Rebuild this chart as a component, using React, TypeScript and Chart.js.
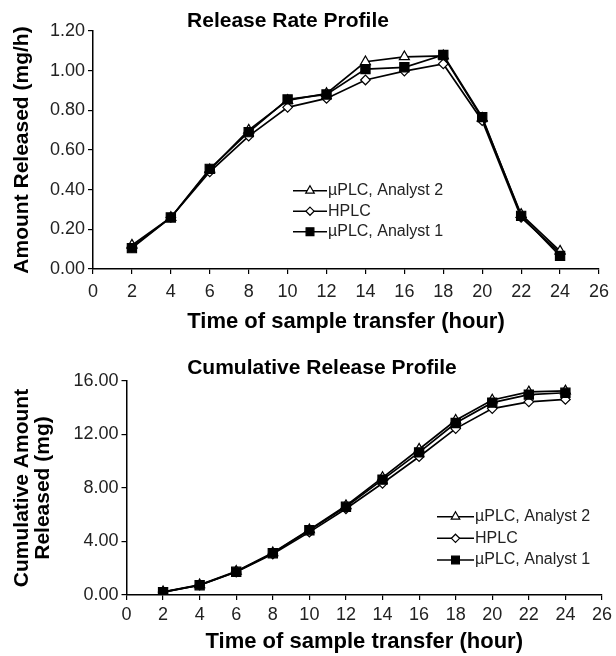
import React, { useEffect, useRef } from 'react';
import { Chart, registerables } from 'chart.js';

Chart.register(...registerables);

// ---------- data ----------
const hours = [2, 4, 6, 8, 10, 12, 14, 16, 18, 20, 22, 24];

const rateAnalyst2 = [0.12, 0.26, 0.5, 0.7, 0.85, 0.885, 1.045, 1.07, 1.075, 0.76, 0.275, 0.09];
const rateHPLC = [0.11, 0.26, 0.49, 0.67, 0.815, 0.86, 0.953, 0.998, 1.034, 0.748, 0.26, 0.08];
const rateAnalyst1 = [0.105, 0.26, 0.505, 0.69, 0.855, 0.88, 1.008, 1.017, 1.079, 0.766, 0.268, 0.066];

const cumAnalyst2 = [0.24, 0.76, 1.77, 3.16, 4.88, 6.68, 8.78, 10.9, 13.06, 14.58, 15.18, 15.26];
const cumHPLC = [0.22, 0.74, 1.72, 3.06, 4.7, 6.45, 8.35, 10.34, 12.44, 13.94, 14.44, 14.62];
const cumAnalyst1 = [0.21, 0.73, 1.74, 3.12, 4.84, 6.6, 8.63, 10.66, 12.86, 14.38, 14.98, 15.12];

const seriesLabels = ['µPLC, Analyst 1', 'µPLC, Analyst 2', 'HPLC'];
const legendOrder = [1, 2, 0];

const topTitle = 'Release Rate Profile';
const bottomTitle = 'Cumulative Release Profile';
const xTitle = 'Time of sample transfer (hour)';
const topYTitle = 'Amount Released (mg/h)';
const bottomYTitle = ['Cumulative Amount', 'Released (mg)'];

// ---------- styling ----------
const FAMILY = "'Liberation Sans', Arial, Helvetica, sans-serif";
const TICK_COLOR = '#222';

type Marker = { style: string; radius: number; fill: string };
const markers: Marker[] = [
  { style: 'rect', radius: 6.5, fill: '#000' },
  { style: 'triangle', radius: 5.8, fill: '#fff' },
  { style: 'rectRot', radius: 4.8, fill: '#fff' },
];

function buildDatasets(values: number[][]) {
  return values.map((arr, i) => ({
    label: seriesLabels[i],
    data: hours.map((h, j) => ({ x: h, y: arr[j] })),
    borderColor: '#000',
    borderWidth: 1.7,
    pointStyle: markers[i].style,
    pointRadius: markers[i].radius,
    pointBackgroundColor: markers[i].fill,
    pointBorderColor: '#000',
    pointBorderWidth: 1.2,
    tension: 0,
    fill: false,
  }));
}

function drawMarker(ctx: CanvasRenderingContext2D, m: Marker, x: number, y: number, r: number) {
  ctx.beginPath();
  if (m.style === 'rect') {
    const s = r * Math.SQRT1_2;
    ctx.rect(x - s, y - s, 2 * s, 2 * s);
  } else if (m.style === 'triangle') {
    let rad = 0;
    ctx.moveTo(x + Math.sin(rad) * r, y - Math.cos(rad) * r);
    rad += (2 * Math.PI) / 3;
    ctx.lineTo(x + Math.sin(rad) * r, y - Math.cos(rad) * r);
    rad += (2 * Math.PI) / 3;
    ctx.lineTo(x + Math.sin(rad) * r, y - Math.cos(rad) * r);
    ctx.closePath();
  } else {
    ctx.moveTo(x, y - r);
    ctx.lineTo(x + r, y);
    ctx.lineTo(x, y + r);
    ctx.lineTo(x - r, y);
    ctx.closePath();
  }
  ctx.fillStyle = m.fill;
  ctx.fill();
  ctx.lineWidth = 1.2;
  ctx.strokeStyle = '#000';
  ctx.stroke();
}

function overlayPlugin(title: string, tx: number, ty: number, lx0: number, lx1: number, textX: number, rows: number[]) {
  return {
    id: 'overlay',
    afterDraw(chart: any) {
      const ctx: CanvasRenderingContext2D = chart.ctx;
      ctx.save();
      ctx.fillStyle = '#000';
      ctx.font = `bold 21px ${FAMILY}`;
      ctx.textAlign = 'center';
      ctx.textBaseline = 'middle';
      ctx.fillText(title, tx, ty);

      legendOrder.forEach((di, k) => {
        const y = rows[k];
        ctx.beginPath();
        ctx.strokeStyle = '#000';
        ctx.lineWidth = 1.6;
        ctx.moveTo(lx0, y);
        ctx.lineTo(lx1, y);
        ctx.stroke();
        const m = markers[di];
        drawMarker(ctx, m, (lx0 + lx1) / 2, y, m.radius * 0.85);
        ctx.fillStyle = TICK_COLOR;
        ctx.font = `16px ${FAMILY}`;
        ctx.textAlign = 'left';
        ctx.textBaseline = 'middle';
        ctx.fillText(chart.data.datasets[di].label, textX, y);
      });
      ctx.restore();
    },
  };
}

function makeConfig(opts: {
  values: number[][];
  yMax: number;
  yStep: number;
  yTitle: string | string[];
  yWidth: number;
  xHeight: number;
  padTop: number;
  padRight: number;
  xTickPad: number;
  plugin: any;
}) {
  return {
    type: 'line' as const,
    data: { datasets: buildDatasets(opts.values) },
    options: {
      responsive: false,
      animation: false,
      devicePixelRatio: 1,
      events: [],
      layout: { padding: { top: opts.padTop, right: opts.padRight, left: 0, bottom: 0 } },
      plugins: { legend: { display: false }, title: { display: false }, tooltip: { enabled: false } },
      scales: {
        x: {
          type: 'linear',
          min: 0,
          max: 26,
          ticks: {
            stepSize: 2,
            autoSkip: false,
            maxRotation: 0,
            color: TICK_COLOR,
            padding: opts.xTickPad,
            font: { family: FAMILY, size: 18 },
          },
          grid: { drawOnChartArea: false, drawTicks: true, tickLength: 5, color: '#000', lineWidth: 1.2 },
          border: { display: true, color: '#000', width: 1.5 },
          title: {
            display: true,
            text: xTitle,
            color: '#000',
            font: { family: FAMILY, size: 22, weight: 'bold', lineHeight: 1 },
            padding: { top: 0, bottom: 2.6 },
          },
          afterFit: (s: any) => {
            s.height = opts.xHeight;
          },
        },
        y: {
          type: 'linear',
          min: 0,
          max: opts.yMax,
          ticks: {
            stepSize: opts.yStep,
            color: TICK_COLOR,
            padding: 3,
            font: { family: FAMILY, size: 18 },
            callback: (v: any) => Number(v).toFixed(2),
          },
          grid: { drawOnChartArea: false, drawTicks: true, tickLength: 5, color: '#000', lineWidth: 1.2 },
          border: { display: true, color: '#000', width: 1.5 },
          title: {
            display: true,
            text: opts.yTitle,
            color: '#000',
            font: { family: FAMILY, size: 21, weight: 'bold', lineHeight: 1 },
            padding: { top: 12.2, bottom: 0 },
          },
          afterFit: (s: any) => {
            s.width = opts.yWidth;
          },
        },
      },
    },
    plugins: [opts.plugin],
  };
}

export default function App() {
  const topRef = useRef<HTMLCanvasElement | null>(null);
  const botRef = useRef<HTMLCanvasElement | null>(null);

  useEffect(() => {
    const top = new Chart(
      topRef.current as HTMLCanvasElement,
      makeConfig({
        values: [rateAnalyst1, rateAnalyst2, rateHPLC],
        yMax: 1.2,
        yStep: 0.2,
        yTitle: topYTitle,
        yWidth: 93,
        xHeight: 67,
        padTop: 31,
        padRight: 13,
        xTickPad: 7,
        plugin: overlayPlugin(topTitle, 288, 21, 293, 327, 328, [190.7, 211.2, 231.7]),
      }) as any
    );
    const bot = new Chart(
      botRef.current as HTMLCanvasElement,
      makeConfig({
        values: [cumAnalyst1, cumAnalyst2, cumHPLC],
        yMax: 16,
        yStep: 4,
        yTitle: bottomYTitle,
        yWidth: 126.5,
        xHeight: 61,
        padTop: 45,
        padRight: 12.5,
        xTickPad: 4,
        plugin: overlayPlugin(bottomTitle, 322, 32.6, 437, 474, 475, [180.7, 202.3, 224]),
      }) as any
    );
    return () => {
      top.destroy();
      bot.destroy();
    };
  }, []);

  return (
    <div style={{ position: 'absolute', left: 0, top: 0, width: 616, height: 656, background: '#fff' }}>
      <canvas ref={topRef} width={616} height={336} style={{ display: 'block', width: 616, height: 336 }} />
      <canvas ref={botRef} width={616} height={320} style={{ display: 'block', width: 616, height: 320 }} />
    </div>
  );
}
